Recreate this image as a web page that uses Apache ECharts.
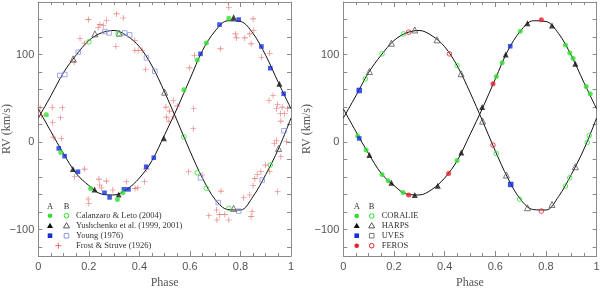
<!DOCTYPE html>
<html><head><meta charset="utf-8">
<script src="https://cdn.jsdelivr.net/npm/echarts@6/dist/echarts.min.js"></script>
<style>html,body{margin:0;padding:0;background:#fff}#c{width:600px;height:289px}</style>
</head><body><div id="c"></div>
<script>
// ---------- data ----------
const phaseGrid = [0,0.05,0.1,0.15,0.2,0.25,0.3,0.35,0.4,0.45,0.5,0.55,0.6,0.65,0.7,0.75,0.8,0.85,0.9,0.95,1];
const curveA = [38,12,-13.2,-35.8,-49.5,-59.3,-60.3,-54,-41,-21,8.5,39,72,104.7,127,138.6,137.8,124,99,68,38];
const curveB = [27.5,53,79.5,99.5,116,124.8,127.5,121.5,109,87,57,24,-10,-41.3,-65.5,-77,-77.5,-62,-37,-8,27.5];

const xLabelValues = [0,0.2,0.4,0.6,0.8,1];
const yLabelValues = [-100,0,100];
const yTickValues = [-120,-100,-80,-60,-40,-20,0,20,40,60,80,100,120,140,160];

// left panel: literature data
const calanzaroA = [[0.032,31.2],[0.089,-11.8],[0.207,-52.8],[0.313,-65.4],[0.335,-57.8],[0.576,59.7],[0.629,93.9],[0.665,113.3],[0.754,141.5]];
const calanzaroB = [[0.2,114.5],[0.316,123.6],[0.576,6.1],[0.629,-35],[0.665,-52.8],[0.754,-75.6],[0.918,-26.2]];
const yushchenkoA = [[0.137,-30.8],[0.223,-54],[0.318,-59.7],[0.497,4.5],[0.773,142.6],[0.954,66.6]];
const yushchenkoB = [[0.138,95.1],[0.224,123.6],[0.32,124.4],[0.5,57],[0.773,-75.6],[0.951,-7.2]];
const youngA = [[0.081,-7.2],[0.104,-16],[0.157,-33.8],[0.262,-57.8],[0.282,-63.1],[0.339,-53.9],[0.357,-53.9],[0.427,-28.1],[0.457,-17.8],[0.642,100.8],[0.717,134.2],[0.793,139.9],[0.883,109.2],[0.918,84.4],[0.971,55.2]];
const youngB = [[0.085,76.1],[0.105,77.2],[0.158,102.7],[0.263,126.3],[0.28,124.7],[0.342,124.7],[0.362,122.5],[0.428,96.2],[0.461,81],[0.642,-40.7],[0.712,-69],[0.793,-78.7],[0.886,-43.3],[0.972,13]];
const frostStruve = [[0.007,39.2],[0.012,30.5],[0.055,39.9],[0.095,39.2],[0.057,22.5],[0.088,27.8],[0.059,5.7],
 [0.198,139.9],[0.244,134.2],[0.257,133.1],[0.27,138.8],[0.237,131.2],[0.31,146.4],[0.336,141.8],[0.165,118.6],[0.184,113],[0.142,91.3],[0.307,109.5],[0.382,116],[0.382,104.6],[0.395,104.6],[0.411,104.6],[0.425,82.9],
 [0.505,40],[0.52,35.4],[0.507,28.6],[0.534,47.6],[0.55,41.1],[0.536,29.3],[0.517,24],[0.615,38.1],[0.613,15.3],
 [0.754,154],[0.598,84.8],[0.618,98.9],[0.721,106.5],[0.78,123.6],[0.784,119],[0.817,119],[0.837,123.6],[0.842,112.2],[0.853,127.4],[0.85,140.7],[0.916,101.5],[0.883,97],[0.929,53.3],[0.942,38.1],[0.947,43],[0.965,40],[0.958,32.4],[0.987,38.1],[0.96,24],[0.942,1.9],[0.913,47.5],[0.975,32.4],
 [0.091,4.2],[0.144,-39.5],[0.183,-30.8],[0.197,-65],[0.2,-70],[0.24,-42.2],[0.269,-44.5],[0.243,-49],[0.25,-52.4],[0.295,-54.7],[0.348,-45.2],[0.383,-52.8],[0.394,-52],[0.42,-45.2],[0.427,-30.8],
 [0.595,-33.8],[0.648,-37.6],[0.723,-55.9],[0.705,-77.5],[0.675,-84],[0.707,-88.9],[0.718,-82.8],[0.738,-82.5],[0.754,-88.9],[0.813,-63.5],[0.846,-79.4],[0.842,-85.1],[0.85,-49.8],[0.837,-60.4],[0.857,-41.7],[0.866,-36.9],[0.881,-33.8],[0.899,-26.2],[0.916,-33.8],[0.947,-56.6],[0.96,-16.7],[0.934,-1.5],[0.982,0.4]];

// right panel: new spectra
const coralieA = [[0.057,7],[0.09,-9.1],[0.153,-36.9],[0.177,-44.1],[0.236,-57.4],[0.449,-20.9],[0.604,74.9],[0.627,90.5],[0.699,126.6],[0.877,111],[0.894,101.9],[0.907,95.8],[0.959,63.5],[0.975,55.2]];
const coralieB = [[0.087,72.3],[0.153,100.8],[0.238,123.6],[0.449,87.5],[0.604,-12.9],[0.696,-65],[0.877,-50.2],[0.894,-40.7],[0.963,-0.4],[0.971,7.6]];
const harpsA = [[0.103,-14.8],[0.19,-46.4],[0.282,-60.4],[0.373,-49.8],[0.466,-11.8],[0.548,40],[0.641,100],[0.727,135.8],[0.824,133.1],[0.916,89.4]];
const harpsB = [[0.103,80.6],[0.19,113],[0.282,128.1],[0.37,116.8],[0.465,78],[0.55,24],[0.644,-37.6],[0.727,-74.9],[0.824,-71.1],[0.916,-28.1]];
const uvesA = [[0.063,4.2],[0.659,109.5]];
const uvesB = [[0.063,59],[0.661,-48.3]];
const ferosA = [[0.258,-60.4],[0.416,-35.7],[0.591,66.6],[0.782,139.6]];
const ferosB = [[0.258,125.5],[0.419,100.8],[0.591,-3.4],[0.782,-78.7]];

const legendLeft = ['Calanzaro & Leto (2004)','Yushchenko et al. (1999, 2001)','Young (1976)','Frost & Struve (1926)'];
const legendRight = ['CORALIE','HARPS','UVES','FEROS'];

// ---------- styling ----------
const GREEN='#2fe02f', BLUE='#1530d8', LBLUE='#8c95e0', RED='#e3202a', PLUSRED='#e04848', BLK='#111', TRIB='#555';
const AX='#8a8a8a', LBL='#555';
const plusPath = 'path://M-0.1,-1 L0.1,-1 L0.1,-0.1 L1,-0.1 L1,0.1 L0.1,0.1 L0.1,1 L-0.1,1 L-0.1,0.1 L-1,0.1 L-1,-0.1 L-0.1,-0.1 Z';

function pairs(xs, ys){ return xs.map((x,i)=>[x, ys[i]]); }
const minus = v => v < 0 ? '\u2212' + Math.abs(v) : String(v);

function xAxes(g){
  const common = {gridIndex:g, type:'value', min:0, max:1, interval:0.2,
    splitLine:{show:false}, minorSplitLine:{show:false},
    axisLine:{show:true, onZero:false, lineStyle:{color:AX, width:1}},
    axisTick:{show:true, inside:true, length:5, lineStyle:{color:AX}},
    minorTick:{show:true, splitNumber:4, length:3, lineStyle:{color:AX}}};
  return [
    Object.assign({}, common, {position:'bottom',
      axisLabel:{show:true, color:LBL, fontFamily:'Liberation Sans', fontSize:11, margin:5, customValues:xLabelValues},
      name:'Phase', nameLocation:'middle', nameGap:21, nameMoveOverlap:false,
      nameTextStyle:{color:LBL, fontFamily:'Liberation Serif', fontSize:12}}),
    Object.assign({}, common, {position:'top', axisLabel:{show:false}})
  ];
}
function yAxes(g, gap){
  const common = {gridIndex:g, type:'value', min:-130, max:160, interval:10,
    splitLine:{show:false},
    axisLine:{show:true, onZero:false, lineStyle:{color:AX, width:1}},
    axisTick:{show:true, inside:true, length:4, customValues:yTickValues, lineStyle:{color:AX}}};
  return [
    Object.assign({}, common, {position:'left',
      axisLabel:{show:true, color:LBL, fontFamily:'Liberation Sans', fontSize:11, margin:4, customValues:yLabelValues, formatter:minus},
      name:'RV (km/s)', nameLocation:'middle', nameRotate:90, nameGap:gap, nameMoveOverlap:false,
      nameTextStyle:{color:LBL, fontFamily:'Liberation Serif', fontSize:12}}),
    Object.assign({}, common, {position:'right', axisLabel:{show:false}})
  ];
}

function curve(data, xi, yi){
  return {type:'line', xAxisIndex:xi, yAxisIndex:yi, data:data, smooth:0.35, symbol:'none', showSymbol:false,
    silent:true, lineStyle:{color:BLK, width:1}, z:1};
}
function pts(data, xi, yi, symbol, size, fill, stroke, bw){
  return {type:'scatter', xAxisIndex:xi, yAxisIndex:yi, data:data, symbol:symbol, symbolSize:size, silent:true, z:3,
    itemStyle:{color:fill, borderColor:stroke || fill, borderWidth:bw || 0}};
}
const HOLLOW = 'rgba(255,255,255,0)';

// ---------- legend drawn with graphic elements ----------
function sym(kind, x, y, fill, stroke){
  const st = {fill:fill, stroke:stroke || fill, lineWidth: stroke ? 1 : 0};
  if (kind === 'circle') return {type:'circle', shape:{cx:x, cy:y, r:2.3}, style:st};
  if (kind === 'tri') return {type:'polygon', shape:{points:[[x,y-3],[x+3,y+2.2],[x-3,y+2.2]]}, style:st};
  if (kind === 'rect') return {type:'rect', shape:{x:x-2.3, y:y-2.3, width:4.6, height:4.6}, style:st};
  if (kind === 'plus') return {type:'group', children:[
    {type:'rect', shape:{x:x-3, y:y-0.4, width:6, height:0.8}, style:{fill:fill}},
    {type:'rect', shape:{x:x-0.4, y:y-3, width:0.8, height:6}, style:{fill:fill}}]};
}
function txt(s, x, y, align){
  return {type:'text', x:x, y:y, style:{text:s, fill:'#333', fontFamily:'Liberation Serif', fontSize:8.5,
    align:align || 'left', verticalAlign:'middle'}};
}
function buildLegend(ax, bx, tx, hy, rows, names, items){
  const out = [txt('A', ax, hy, 'center'), txt('B', bx, hy, 'center')];
  items.forEach((it, i) => {
    const y = rows[i];
    if (it.a) out.push(sym(it.a[0], ax, y, it.a[1], it.a[2]));
    if (it.b) out.push(sym(it.b[0], bx, y, it.b[1], it.b[2]));
    if (it.mid) out.push(sym(it.mid[0], (ax+bx)/2, y, it.mid[1]));
    out.push(txt(names[i], tx, y));
  });
  return out;
}
const rowsY = [215.7, 225.7, 235.7, 245.7];
const graphicEls = [].concat(
  buildLegend(50, 66.5, 76, 206.7, rowsY, legendLeft, [
    {a:['circle',GREEN], b:['circle','#fff',GREEN]},
    {a:['tri',BLK], b:['tri','#fff',TRIB]},
    {a:['rect',BLUE], b:['rect','#fff',LBLUE]},
    {mid:['plus',PLUSRED]}]),
  buildLegend(356.7, 371.7, 381.7, 207, [216, 225.7, 235.7, 245.7], legendRight, [
    {a:['circle',GREEN], b:['circle','#fff',GREEN]},
    {a:['tri',BLK], b:['tri','#fff',TRIB]},
    {a:['rect',BLUE], b:['rect','#fff','#777']},
    {a:['circle',RED], b:['circle','#fff',RED]}])
);

const option = {
  animation:false,
  backgroundColor:'#fff',
  grid:[
    {left:38.3, right:309, top:2, bottom:33, containLabel:false, outerBoundsMode:'none'},
    {left:343.3, right:3.4, top:2, bottom:33, containLabel:false, outerBoundsMode:'none'}
  ],
  xAxis: xAxes(0).concat(xAxes(1)),
  yAxis: yAxes(0, 25).concat(yAxes(1, 30)),
  series:[
    curve(pairs(phaseGrid, curveA), 0, 0),
    curve(pairs(phaseGrid, curveB), 0, 0),
    pts(frostStruve, 0, 0, plusPath, 6, PLUSRED),
    pts(youngB, 0, 0, 'rect', 4.5, HOLLOW, LBLUE, 1),
    pts(yushchenkoB, 0, 0, 'triangle', 6, HOLLOW, TRIB, 1),
    pts(calanzaroB, 0, 0, 'circle', 4.6, HOLLOW, GREEN, 1),
    pts(youngA, 0, 0, 'rect', 4.6, BLUE),
    pts(yushchenkoA, 0, 0, 'triangle', 6, BLK),
    pts(calanzaroA, 0, 0, 'circle', 5, GREEN),

    curve(pairs(phaseGrid, curveA), 2, 2),
    curve(pairs(phaseGrid, curveB), 2, 2),
    pts(coralieB, 2, 2, 'circle', 4.6, HOLLOW, GREEN, 1),
    pts(harpsB, 2, 2, 'triangle', 6, HOLLOW, TRIB, 1),
    pts(uvesB, 2, 2, 'rect', 4.6, BLUE, BLUE, 1),
    pts(ferosB, 2, 2, 'circle', 4.6, HOLLOW, RED, 1),
    pts(coralieA, 2, 2, 'circle', 5, GREEN),
    pts(harpsA, 2, 2, 'triangle', 6, BLK),
    pts(uvesA, 2, 2, 'rect', 4.6, BLUE),
    pts(ferosA, 2, 2, 'circle', 5, RED)
  ],
  graphic: graphicEls
};
const chart = echarts.init(document.getElementById('c'));
chart.setOption(option);
</script>
</body></html>
